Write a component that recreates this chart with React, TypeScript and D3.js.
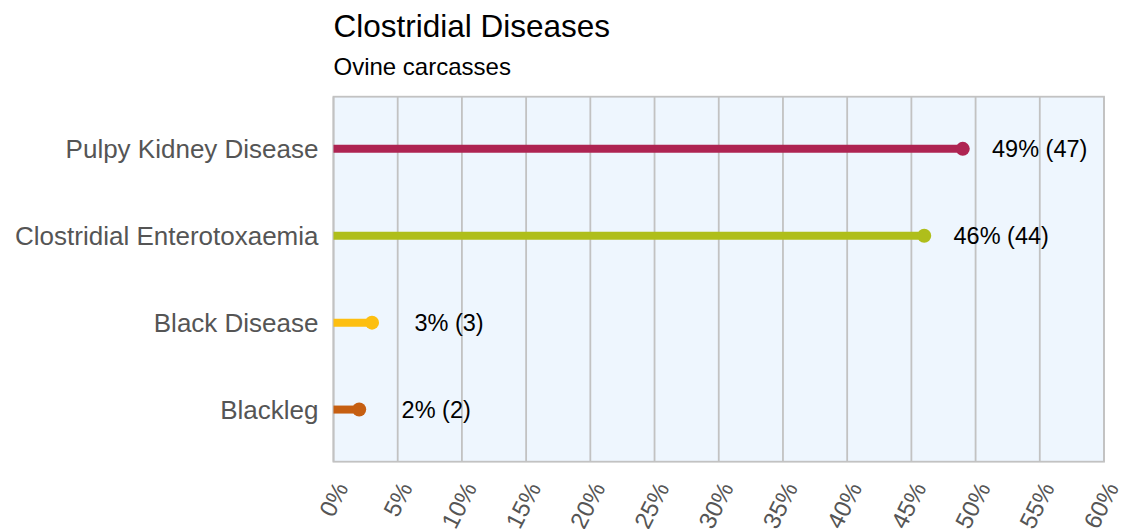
import React from "react";
import * as d3 from "d3";

const title = "Clostridial Diseases";
const subtitle = "Ovine carcasses";
const categories = ["Pulpy Kidney Disease", "Clostridial Enterotoxaemia", "Black Disease", "Blackleg"];
const percents = [49, 46, 3, 2];
const counts = [47, 44, 3, 2];
const colors = ["#ae2452", "#afbe1b", "#fdbf11", "#c65f12"];
const xTicks = [0, 5, 10, 15, 20, 25, 30, 35, 40, 45, 50, 55, 60];

const W = 1123;
const H = 529;
const left = 333.5;
const right = 1104;
const top = 96.7;
const bottom = 461.7;
const FONT = '"Liberation Sans", Arial, Helvetica, sans-serif';

export default function App() {
  const x = d3.scaleLinear().domain([0, 60]).range([left, right]);
  const y = d3.scalePoint<string>().domain(categories).range([top, bottom]).padding(0.6);

  return (
    <svg
      width={W}
      height={H}
      style={{ position: "absolute", left: 0, top: 0, fontFamily: FONT }}
    >
      <rect x={0} y={0} width={W} height={H} fill="#ffffff" />
      <text x={left} y={37} fontSize={31.5} fill="#000">{title}</text>
      <text x={left} y={75} fontSize={24} fill="#000">{subtitle}</text>

      <rect x={left} y={top} width={right - left} height={bottom - top} fill="#eef6fe" />
      {xTicks.map((t) => (
        <line key={"g" + t} x1={x(t)} x2={x(t)} y1={top} y2={bottom} stroke="#c2c2c2" strokeWidth={1.8} />
      ))}
      <rect x={left} y={top} width={right - left} height={bottom - top} fill="none" stroke="#c2c2c2" strokeWidth={1.8} />

      {categories.map((c, i) => {
        const yy = y(c) as number;
        return (
          <g key={c}>
            <line x1={x(0)} x2={x(percents[i])} y1={yy} y2={yy} stroke={colors[i]} strokeWidth={8} />
            <circle cx={x(percents[i])} cy={yy} r={7} fill={colors[i]} />
            <text x={x(percents[i]) + 77} y={yy} dy="0.35em" textAnchor="middle" fontSize={23.5} fill="#000">
              {`${percents[i]}% (${counts[i]})`}
            </text>
            <text x={left - 15} y={yy} dy="0.35em" textAnchor="end" fontSize={26} fill="#555555">
              {c}
            </text>
          </g>
        );
      })}

      {xTicks.map((t) => (
        <text
          key={"t" + t}
          transform={`translate(${x(t) + 15.5},${bottom + 26}) rotate(-63)`}
          textAnchor="end"
          fontSize={24}
          fill="#555555"
        >
          {`${t}%`}
        </text>
      ))}
    </svg>
  );
}
